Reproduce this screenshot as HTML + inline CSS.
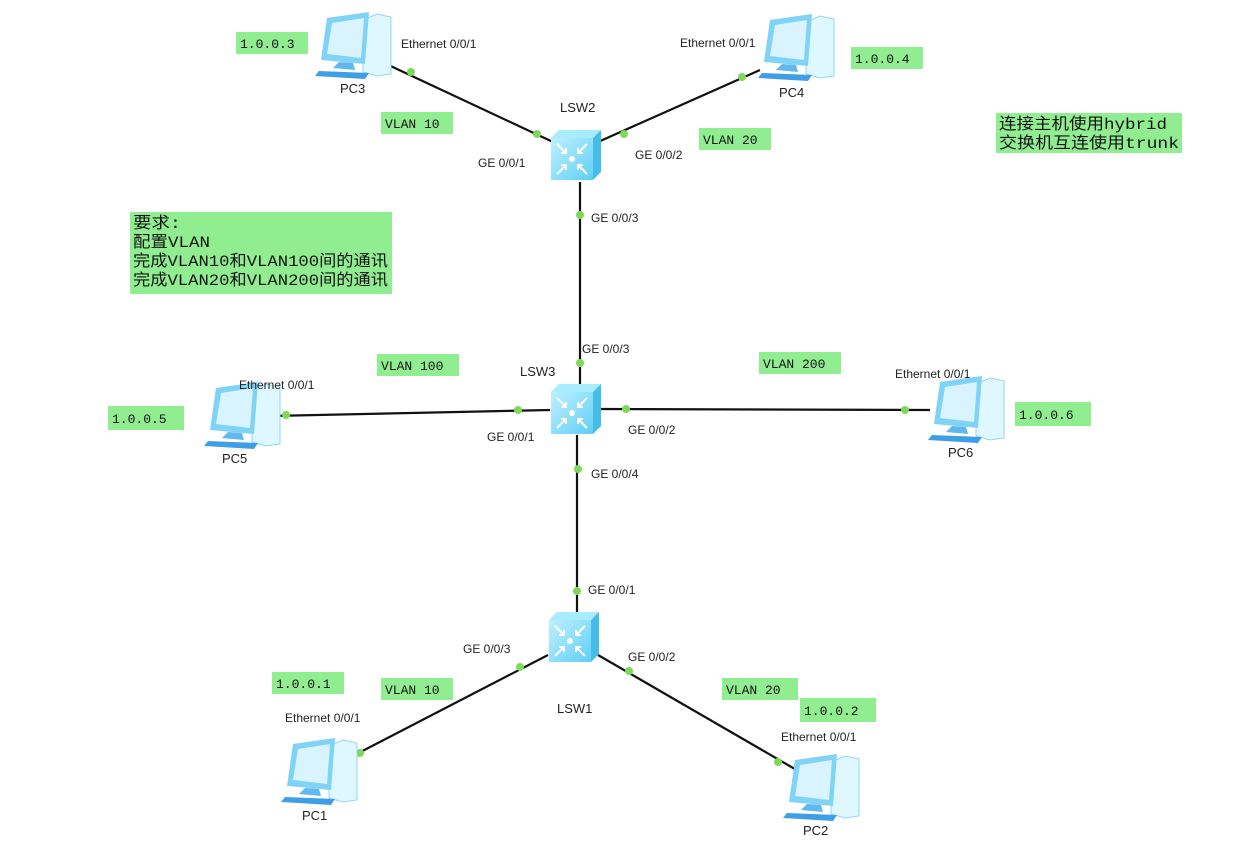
<!DOCTYPE html>
<html><head><meta charset="utf-8"><style>
body{margin:0;background:#fff;width:1255px;height:845px;overflow:hidden}
svg{display:block}
.l{font-family:"Liberation Sans",sans-serif;font-size:12px;fill:#222}
.n{font-family:"Liberation Sans",sans-serif;font-size:13px;fill:#222}
.g{font-family:"Liberation Mono","Noto Sans CJK SC",monospace;font-size:13px;fill:#111}
.c{font-family:"Liberation Mono","Noto Sans CJK SC",monospace;font-size:16px;fill:#111}
</style></head><body>
<svg width="1255" height="845" xmlns="http://www.w3.org/2000/svg">
<defs>
<linearGradient id="sw" x1="0" y1="0" x2="1" y2="1"><stop offset="0" stop-color="#bff0ff"/><stop offset="1" stop-color="#5fcff5"/></linearGradient>
<g id="S">
<polygon points="-24,-16 -16,-24 26,-24 18,-16" fill="#a8ecff"/>
<polygon points="18,-16 26,-24 26,18 18,26" fill="#45bde8"/>
<rect x="-24" y="-16" width="42" height="42" fill="url(#sw)"/>
<g stroke="#fff" stroke-width="2" fill="none"><path d="M-18,-10 L-9,-1 M-9,-6 L-9,-1 L-14,-1"/><path d="M12,-10 L3,-1 M3,-6 L3,-1 L8,-1"/><path d="M-18,20 L-9,11 M-9,16 L-9,11 L-14,11"/><path d="M12,20 L3,11 M3,16 L3,11 L8,11"/></g>
<circle cx="-3" cy="5" r="3" fill="#fff"/>
</g>
<g id="P">
<polygon points="20,-24 34,-30 48,-27 48,30 34,32 20,28" fill="#dff7ff" stroke="#8fd8f5"/>
<polygon points="-16,-26 26,-32 22,20 -22,16" fill="#7fd3f7"/>
<polygon points="-11,-21 21,-26 18,14 -16,10" fill="#d9f4ff"/>
<polygon points="-4,18 10,19 12,26 -10,24" fill="#5fb8ee"/>
<polygon points="-24,27 26,29 22,35 -28,32" fill="#3f9fe6"/>
</g>
</defs>
<g stroke="#111" stroke-width="2.2">
<line x1="382" y1="62" x2="553" y2="142"/>
<line x1="598" y1="142" x2="760" y2="70"/>
<line x1="580" y1="182" x2="580" y2="390"/>
<line x1="270" y1="416" x2="550" y2="410"/>
<line x1="600" y1="409" x2="930" y2="410"/>
<line x1="577" y1="435" x2="577" y2="615"/>
<line x1="548" y1="655" x2="345" y2="760"/>
<line x1="598" y1="655" x2="800" y2="772"/>
</g>
<g fill="#7ed957">
<circle cx="411" cy="72" r="4"/><circle cx="537" cy="134" r="4"/>
<circle cx="624" cy="134" r="4"/><circle cx="742" cy="77" r="4"/>
<circle cx="580" cy="215" r="4"/><circle cx="580" cy="363" r="4"/>
<circle cx="286" cy="415" r="4"/><circle cx="518" cy="410" r="4"/>
<circle cx="626" cy="409" r="4"/><circle cx="905" cy="410" r="4"/>
<circle cx="578" cy="469" r="4"/><circle cx="577" cy="591" r="4"/>
<circle cx="520" cy="667" r="4"/><circle cx="360" cy="753" r="4"/>
<circle cx="629" cy="671" r="4"/><circle cx="778" cy="762" r="4"/>
</g>
<use href="#S" x="575" y="154"/>
<use href="#S" x="575" y="408"/>
<use href="#S" x="573" y="636"/>
<use href="#P" x="343" y="44"/>
<use href="#P" x="786" y="46"/>
<use href="#P" x="232" y="414"/>
<use href="#P" x="956" y="408"/>
<use href="#P" x="309" y="770"/>
<use href="#P" x="811" y="786"/>
<g class="n">
<text x="340" y="93">PC3</text><text x="779" y="97">PC4</text>
<text x="222" y="463">PC5</text><text x="948" y="457">PC6</text>
<text x="302" y="820">PC1</text><text x="803" y="835">PC2</text>
<text x="560" y="112">LSW2</text><text x="520" y="376">LSW3</text><text x="557" y="713">LSW1</text>
</g>
<g class="l">
<text x="401" y="48">Ethernet 0/0/1</text><text x="680" y="47">Ethernet 0/0/1</text>
<text x="478" y="167">GE 0/0/1</text><text x="635" y="159">GE 0/0/2</text>
<text x="591" y="222">GE 0/0/3</text><text x="582" y="353">GE 0/0/3</text>
<text x="239" y="389">Ethernet 0/0/1</text><text x="895" y="378">Ethernet 0/0/1</text>
<text x="487" y="441">GE 0/0/1</text><text x="628" y="434">GE 0/0/2</text>
<text x="591" y="478">GE 0/0/4</text><text x="588" y="594">GE 0/0/1</text>
<text x="463" y="653">GE 0/0/3</text><text x="628" y="661">GE 0/0/2</text>
<text x="285" y="722">Ethernet 0/0/1</text><text x="781" y="741">Ethernet 0/0/1</text>
</g>
<g fill="#90ee90">
<rect x="236" y="32" width="72" height="22"/><rect x="851" y="47" width="72" height="22"/>
<rect x="381" y="112" width="72" height="22"/><rect x="699" y="128" width="72" height="22"/>
<rect x="996" y="113" width="186" height="40"/>
<rect x="130" y="212" width="262" height="82"/>
<rect x="377" y="354" width="82" height="22"/><rect x="759" y="352" width="82" height="22"/>
<rect x="108" y="406" width="76" height="24"/><rect x="1015" y="402" width="76" height="24"/>
<rect x="272" y="672" width="72" height="22"/><rect x="381" y="678" width="72" height="22"/>
<rect x="722" y="678" width="76" height="22"/><rect x="800" y="698" width="76" height="24"/>
</g>
<g class="g">
<text x="240" y="48">1.0.0.3</text><text x="855" y="63">1.0.0.4</text>
<text x="385" y="128">VLAN 10</text><text x="703" y="144">VLAN 20</text>
<text x="381" y="370">VLAN 100</text><text x="763" y="368">VLAN 200</text>
<text x="112" y="423">1.0.0.5</text><text x="1019" y="419">1.0.0.6</text>
<text x="276" y="688">1.0.0.1</text><text x="385" y="694">VLAN 10</text>
<text x="726" y="694">VLAN 20</text><text x="804" y="715">1.0.0.2</text>
</g>
<g class="c">
<text x="999" y="129" textLength="168" lengthAdjust="spacingAndGlyphs">连接主机使用hybrid</text>
<text x="999" y="148" textLength="180" lengthAdjust="spacingAndGlyphs">交换机互连使用trunk</text>
<text x="133" y="228" textLength="48" lengthAdjust="spacingAndGlyphs">要求:</text>
<text x="133" y="247" textLength="77" lengthAdjust="spacingAndGlyphs">配置VLAN</text>
<text x="133" y="266" textLength="255" lengthAdjust="spacingAndGlyphs">完成VLAN10和VLAN100间的通讯</text>
<text x="133" y="285" textLength="255" lengthAdjust="spacingAndGlyphs">完成VLAN20和VLAN200间的通讯</text>
</g>
</svg>
</body></html>
